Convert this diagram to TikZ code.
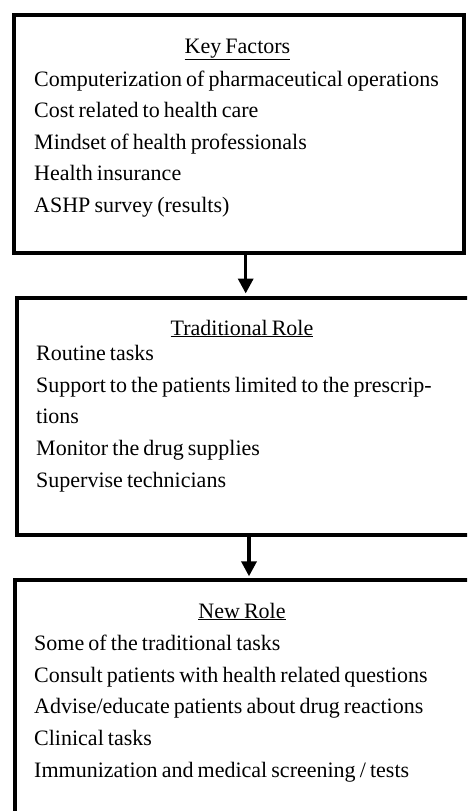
\documentclass[tikz,border=0pt]{standalone}
\usepackage{fontspec}
\setmainfont[WordSpace=0.75]{Liberation Serif}
\usetikzlibrary{arrows.meta}
\tikzset{
  boxframe/.style={draw=black, line width=4pt, rectangle, anchor=north west, inner sep=0pt},
  title/.style={anchor=base, inner sep=0pt, font=\fontsize{22}{24}\selectfont},
  item/.style={anchor=base west, inner sep=0pt, font=\fontsize{22}{24}\selectfont},
  conn/.style={draw=black, line width=3.5pt, -{Triangle[width=15pt,length=15pt]}}
}
\begin{document}
\begin{tikzpicture}[x=1pt,y=-1pt]
\useasboundingbox (0,0) rectangle (467,811);
\clip (0,0) rectangle (467,811);
\fill[white] (0,0) rectangle (467,811);
% boxes
\node[boxframe, minimum width=450pt, minimum height=237.5pt] (box1) at (12,13) {};
\node[boxframe, minimum width=470pt, minimum height=237.5pt] (box2) at (15.3,295.5) {};
\node[boxframe, minimum width=470pt, minimum height=260pt] (box3) at (13,578.3) {};
% texts box 1
\node[title] (t1) at (237.5,53) {\underline{Key Factors}};
\node[item] (k1) at (34,86) {Computerization of pharmaceutical operations};
\node[item] (k2) at (34,117.5) {Cost related to health care};
\node[item] (k3) at (34,149) {Mindset of health professionals};
\node[item] (k4) at (34,180.5) {Health insurance};
\node[item] (k5) at (34,212) {ASHP survey (results)};
% texts box 2
\node[title] (t2) at (242,335) {\underline{Traditional Role}};
\node[item] (r1) at (36,360) {Routine tasks};
\node[item] (r2) at (36,392) {Support to the patients limited to the prescrip-};
\node[item] (r3) at (36,423.5) {tions};
\node[item] (r4) at (36,455) {Monitor the drug supplies};
\node[item] (r5) at (36,487) {Supervise technicians};
% texts box 3
\node[title] (t3) at (242,618) {\underline{New Role}};
\node[item] (n1) at (34,650) {Some of the traditional tasks};
\node[item] (n2) at (34,682) {Consult patients with health related questions};
\node[item] (n3) at (34,713.5) {Advise/educate patients about drug reactions};
\node[item] (n4) at (34,745.5) {Clinical tasks};
\node[item] (n5) at (34,777) {Immunization and medical screening / tests};
% connectors
\coordinate (a1) at (245.7,0);
\coordinate (a2) at (249,0);
\draw[conn] (box1.south -| a1) -- ([yshift=2pt]box2.north -| a1);
\draw[conn] (box2.south -| a2) -- ([yshift=2pt]box3.north -| a2);
\end{tikzpicture}
\end{document}
